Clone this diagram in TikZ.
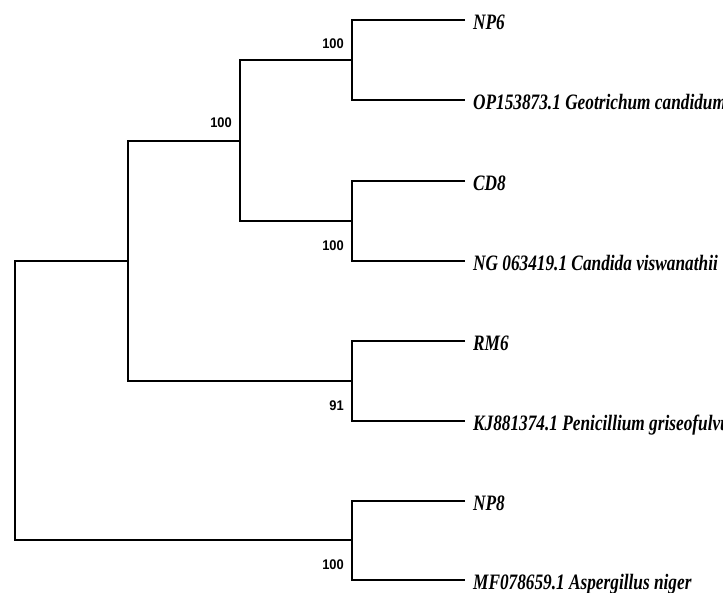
\documentclass[tikz,border=0pt]{standalone}
\usepackage{fontspec}
\setmainfont{Liberation Serif}
\newfontfamily\numfont{Liberation Sans}
\begin{document}
\begin{tikzpicture}[x=1pt,y=-1pt,
  branch/.style={line width=2.8pt, line join=miter},
  leaf/.style={anchor=base west, inner sep=0pt, xscale=0.785, font=\fontsize{22}{24}\selectfont\bfseries\itshape},
  boot/.style={anchor=east, inner sep=0pt, xscale=0.92, font=\fontsize{14}{15}\selectfont\numfont\bfseries}]
\useasboundingbox (0,0) rectangle (723,592);
% leaf tips
\coordinate (tNP6) at (465,20);
\coordinate (tOP) at (465,100);
\coordinate (tCD8) at (465,181);
\coordinate (tNG) at (465,261);
\coordinate (tRM6) at (465,341);
\coordinate (tKJ) at (465,421);
\coordinate (tNP8) at (465,501);
\coordinate (tMF) at (465,580);
% internal nodes
\coordinate (nA) at (352,60);
\coordinate (nB) at (352,221);
\coordinate (nC) at (352,381);
\coordinate (nD) at (352,540);
\coordinate (nAB) at (240,141);
\coordinate (nABC) at (128,261);
\coordinate (nRoot) at (15,400);
% branches
\draw[branch] (tNP6) -| (nA) |- (tOP);
\draw[branch] (tCD8) -| (nB) |- (tNG);
\draw[branch] (tRM6) -| (nC) |- (tKJ);
\draw[branch] (tNP8) -| (nD) |- (tMF);
\draw[branch] (nA) -| (nAB) |- (nB);
\draw[branch] (nAB) -| (nABC) |- (nC);
\draw[branch] (nABC) -| (nRoot) |- (nD);
% leaf labels
\node[leaf] (lNP6) at (473,29) {NP6};
\node[leaf] (lOP) at (473,109) {OP153873.1 Geotrichum candidum};
\node[leaf] (lCD8) at (473,190) {CD8};
\node[leaf] (lNG) at (473,270) {NG 063419.1 Candida viswanathii};
\node[leaf] (lRM6) at (473,350) {RM6};
\node[leaf] (lKJ) at (473,430) {KJ881374.1 Penicillium griseofulvum};
\node[leaf] (lNP8) at (473,510) {NP8};
\node[leaf] (lMF) at (473,589) {MF078659.1 Aspergillus niger};
% bootstrap values
\node[boot] (bA) at (344,44) {100};
\node[boot] (bAB) at (232,123) {100};
\node[boot] (bB) at (344,246) {100};
\node[boot] (bC) at (344,406) {91};
\node[boot] (bD) at (344,565) {100};
\end{tikzpicture}
\end{document}
